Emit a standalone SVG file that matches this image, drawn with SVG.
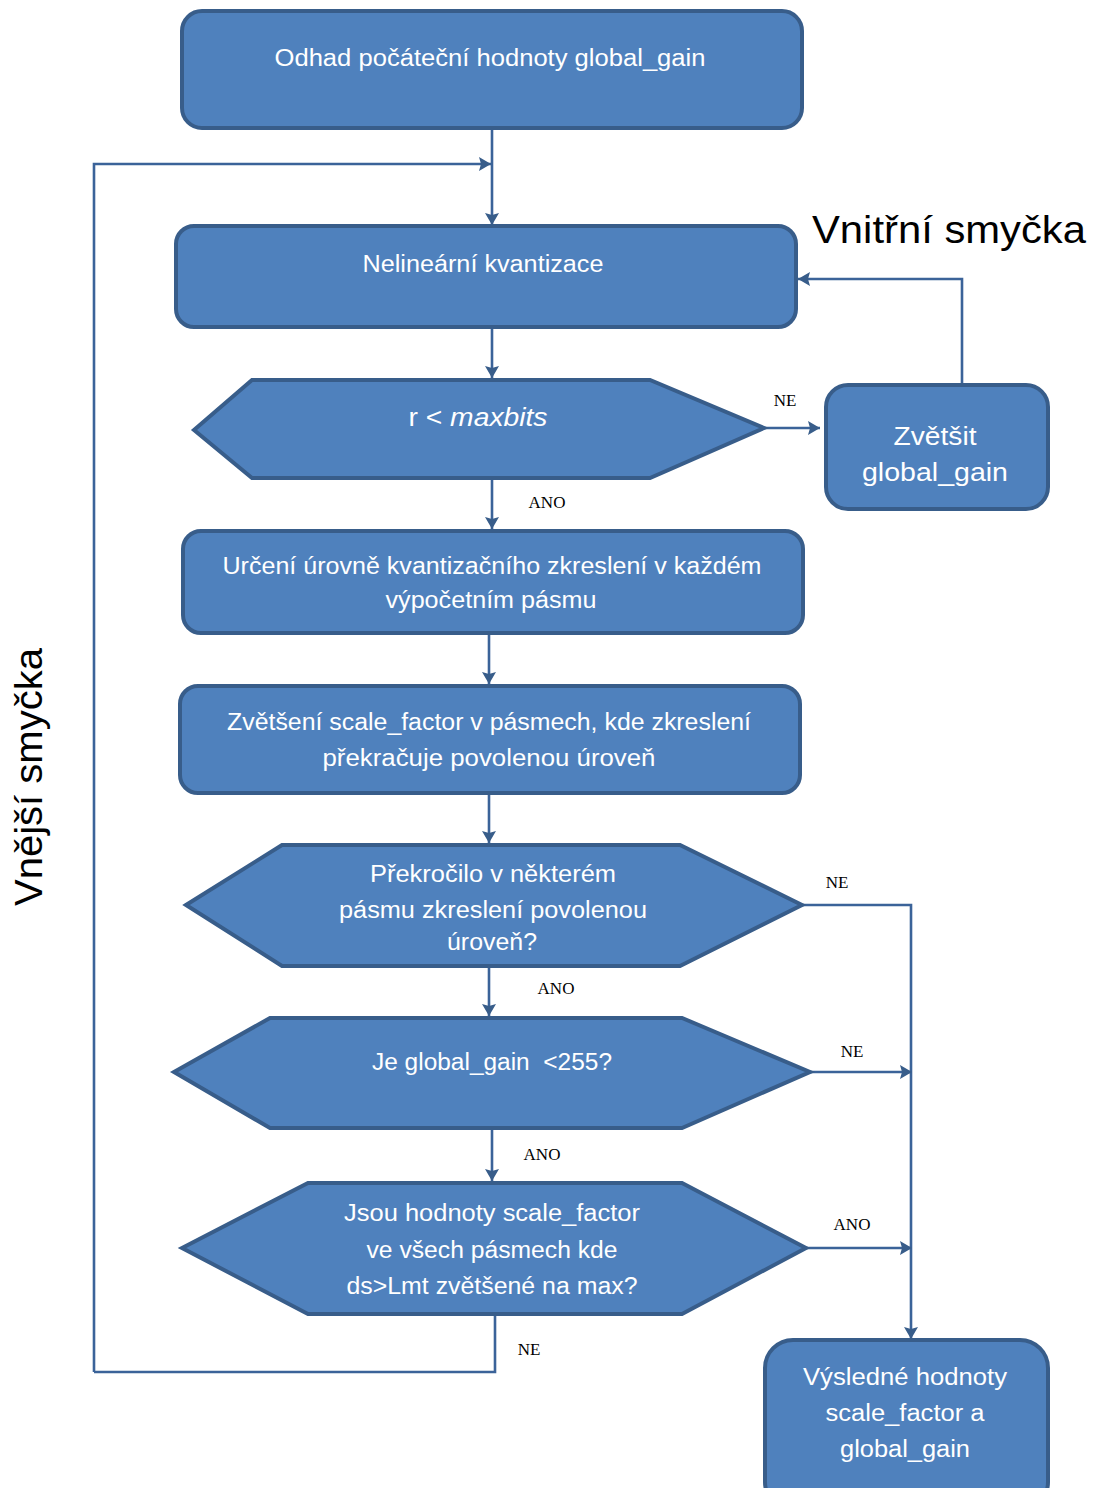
<svg xmlns="http://www.w3.org/2000/svg" width="1093" height="1488" viewBox="0 0 1093 1488">
<style>
.n{fill:#4F81BD;stroke:#385D8A;stroke-width:4;stroke-linejoin:miter}
.t{fill:#FFFFFF;font-family:"Liberation Sans","Noto Sans",sans-serif;font-size:23px;text-anchor:middle}
.tb{fill:#FFFFFF;font-family:"Liberation Sans","Noto Sans",sans-serif;font-size:26px;text-anchor:middle}
.c{fill:none;stroke:#3B6399;stroke-width:2.6}
.l{fill:#000;font-family:"Liberation Serif","Times New Roman",serif;font-size:17px;text-anchor:middle}
.big{fill:#000;font-family:"Liberation Sans","Noto Sans",sans-serif;font-size:38px;text-anchor:middle}
</style>
<defs>
<marker id="a" viewBox="0 0 12 14" refX="12" refY="7" markerWidth="12" markerHeight="14" markerUnits="userSpaceOnUse" orient="auto">
<path d="M0,0 L12,7 L0,14 L2,7 Z" fill="#385D8A"/>
</marker>
</defs>
<rect width="1093" height="1488" fill="#FFFFFF"/>

<g id="connectors">
<path class="c" d="M492,129 V225" marker-end="url(#a)"/>
<path class="c" d="M94,1372 V164 H491" marker-end="url(#a)"/>
<path class="c" d="M492,328 V378" marker-end="url(#a)"/>
<path class="c" d="M962,384 V279 H798" marker-end="url(#a)"/>
<path class="c" d="M764,428 H820" marker-end="url(#a)"/>
<path class="c" d="M492,480 V529" marker-end="url(#a)"/>
<path class="c" d="M489,634 V684" marker-end="url(#a)"/>
<path class="c" d="M489,794 V843" marker-end="url(#a)"/>
<path class="c" d="M802,905 H911 V1339" marker-end="url(#a)"/>
<path class="c" d="M489,967 V1016" marker-end="url(#a)"/>
<path class="c" d="M810,1072 H912" marker-end="url(#a)"/>
<path class="c" d="M492,1129 V1181" marker-end="url(#a)"/>
<path class="c" d="M806,1248 H912" marker-end="url(#a)"/>
<path class="c" d="M495,1315 V1372 H94"/>
<text class="l" x="785" y="406">NE</text>
<text class="l" x="547" y="508">ANO</text>
<text class="l" x="837" y="888">NE</text>
<text class="l" x="556" y="994">ANO</text>
<text class="l" x="852" y="1057">NE</text>
<text class="l" x="542" y="1160">ANO</text>
<text class="l" x="852" y="1230">ANO</text>
<text class="l" x="529" y="1355">NE</text>
</g>

<g id="n1">
<rect class="n" x="182" y="11" width="620" height="117" rx="20"/>
<text class="t" x="490" y="66" textLength="431" lengthAdjust="spacingAndGlyphs">Odhad počáteční hodnoty global_gain</text>
</g>
<g id="n2">
<rect class="n" x="176" y="226" width="620" height="101" rx="18"/>
<text class="t" x="483" y="272" textLength="241" lengthAdjust="spacingAndGlyphs">Nelineární kvantizace</text>
</g>
<g id="n3">
<path class="n" d="M194,430 L252,380 L650,380 L764,428 L650,478 L252,478 Z"/>
<text class="tb" x="478" y="426" textLength="139" lengthAdjust="spacingAndGlyphs">r &lt; <tspan font-style="italic">maxbits</tspan></text>
</g>
<g id="n4">
<rect class="n" x="826" y="385" width="222" height="124" rx="22"/>
<text class="tb" x="935" y="445" textLength="83" lengthAdjust="spacingAndGlyphs">Zvětšit</text>
<text class="tb" x="935" y="481" textLength="146" lengthAdjust="spacingAndGlyphs">global_gain</text>
</g>
<g id="n5">
<rect class="n" x="183" y="531" width="620" height="102" rx="18"/>
<text class="t" x="492" y="574" textLength="539" lengthAdjust="spacingAndGlyphs">Určení úrovně kvantizačního zkreslení v každém</text>
<text class="t" x="491" y="608" textLength="211" lengthAdjust="spacingAndGlyphs">výpočetním pásmu</text>
</g>
<g id="n6">
<rect class="n" x="180" y="686" width="620" height="107" rx="18"/>
<text class="t" x="489" y="730" textLength="524" lengthAdjust="spacingAndGlyphs">Zvětšení scale_factor v pásmech, kde zkreslení</text>
<text class="t" x="489" y="766" textLength="333" lengthAdjust="spacingAndGlyphs">překračuje povolenou úroveň</text>
</g>
<g id="n7">
<path class="n" d="M186,905 L282,845 L680,845 L802,905 L680,966 L282,966 Z"/>
<text class="t" x="493" y="882" textLength="246" lengthAdjust="spacingAndGlyphs">Překročilo v některém</text>
<text class="t" x="493" y="918" textLength="308" lengthAdjust="spacingAndGlyphs">pásmu zkreslení povolenou</text>
<text class="t" x="492" y="950" textLength="90" lengthAdjust="spacingAndGlyphs">úroveň?</text>
</g>
<g id="n8">
<path class="n" d="M174,1072 L270,1018 L682,1018 L810,1072 L682,1128 L270,1128 Z"/>
<text class="t" x="492" y="1070" textLength="240" lengthAdjust="spacingAndGlyphs" xml:space="preserve">Je global_gain  &lt;255?</text>
</g>
<g id="n9">
<path class="n" d="M182,1248 L308,1183 L682,1183 L806,1248 L682,1314 L308,1314 Z"/>
<text class="t" x="492" y="1221" textLength="296" lengthAdjust="spacingAndGlyphs">Jsou hodnoty scale_factor</text>
<text class="t" x="492" y="1258" textLength="251" lengthAdjust="spacingAndGlyphs">ve všech pásmech kde</text>
<text class="t" x="492" y="1294" textLength="291" lengthAdjust="spacingAndGlyphs">ds&gt;Lmt zvětšené na max?</text>
</g>
<g id="n10">
<rect class="n" x="765" y="1340" width="283" height="170" rx="28"/>
<text class="t" x="905" y="1385" textLength="204" lengthAdjust="spacingAndGlyphs">Výsledné hodnoty</text>
<text class="t" x="905" y="1421" textLength="159" lengthAdjust="spacingAndGlyphs">scale_factor a</text>
<text class="t" x="905" y="1457" textLength="130" lengthAdjust="spacingAndGlyphs">global_gain</text>
</g>

<g id="labels">
<text class="big" x="949" y="243" textLength="274" lengthAdjust="spacingAndGlyphs">Vnitřní smyčka</text>
<text class="big" x="0" y="0" transform="translate(42,777) rotate(-90)" textLength="258" lengthAdjust="spacingAndGlyphs">Vnější smyčka</text>
</g>
</svg>
